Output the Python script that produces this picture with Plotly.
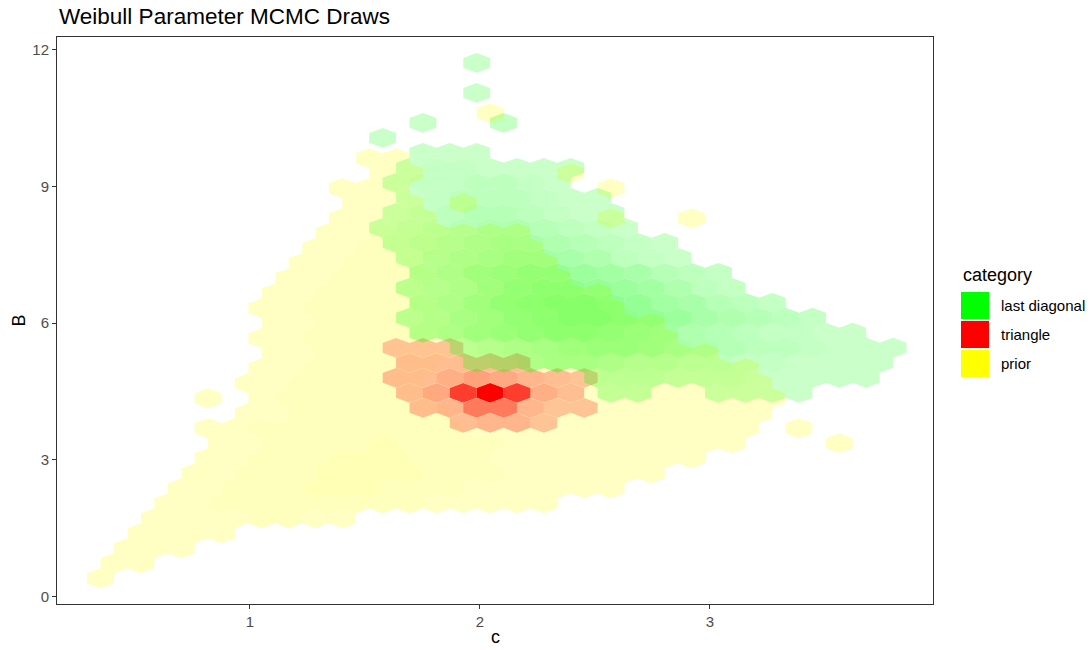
import plotly.graph_objects as go

TITLE = "Weibull Parameter MCMC Draws"
categories = ["prior", "triangle", "last diagonal"]          # drawing order
legend_order = ["last diagonal", "triangle", "prior"]
fills = {"last diagonal": "#00FF00", "triangle": "#FF0000", "prior": "#FFFF00"}

# hex bin size: horizontal spacing of centres in a row, vertical spacing of rows
DC = 0.1168
DB = 0.3289
C0 = 2 * DC          # c of column 0 on an unshifted row

# each category is binned on its own lattice: (B of row 0, parity of row 0)
lattice = {"prior": (0.405, 0), "triangle": (3.812, 1), "last diagonal": (4.471, 0)}

# bin counts per lattice row: row -> (first column, counts in base 36, '.' = empty)
prior_rows = {
    0: (1, "6"),
    1: (1, "66"),
    2: (2, "666"),
    3: (2, "6666"),
    4: (3, "66667766"),
    5: (3, "667777777766666"),
    6: (4, "66777888777666666"),
    7: (4, "667778888777666666"),
    8: (5, "6677788877766666666"),
    9: (5, "66777787777666666666...6"),
    10: (5, "667777777766666666666.6"),
    11: (6, "66777777666666666666"),
    12: (5, "6.67777776666666666666"),
    13: (6, "66777776666666666666"),
    14: (7, "6677777666666666666"),
    15: (7, "66777776666666666"),
    16: (7, "6677777666666666"),
    17: (7, "667777766666666"),
    18: (7, "66777776666666"),
    19: (7, "6677776666666"),
    20: (8, "66777766666"),
    21: (8, "6677766666"),
    22: (9, "667776666"),
    23: (9, "66777666"),
    24: (10, "6666......6..6"),
    25: (10, "666.6"),
    26: (10, "666.......6"),
    27: (11, "66.....6"),
    28: (11, "66"),
    31: (15, "6"),
}

triangle_rows = {
    0: (14, "7886"),
    1: (13, "78hh866"),
    2: (12, "7aqzq97"),
    3: (12, "779ba876"),
    4: (12, "77777"),
    5: (12, "666"),
}

diagonal_rows = {
    0: (20, "66..5555"),
    1: (19, "77766655555"),
    2: (15, "789aa98877665555"),
    3: (14, "789abccba98776555"),
    4: (13, "89bcdeedcb9876655"),
    5: (12, "78abdeffedca9876"),
    6: (13, "89bdeffedba876"),
    7: (12, "789bdeedcb976"),
    8: (13, "89bcddcba876"),
    9: (12, "689abba9765"),
    10: (12, "6789aa98765"),
    11: (11, "5678998765"),
    12: (12, "567887655"),
    13: (12, "56777655"),
    14: (12, "5667765"),
    15: (12, "5665555"),
    16: (13, "555"),
    17: (11, "5"),
    18: (13, "5..6"),
    20: (15, "5"),
    22: (15, "5"),
}

rows_by_category = {"prior": prior_rows, "triangle": triangle_rows,
                    "last diagonal": diagonal_rows}

HX = DC / 2
HY = DB / 3 ** 0.5 / 2 * 1.15


def cells(cat):
    b0, parity = lattice[cat]
    for r, (k0, s) in rows_by_category[cat].items():
        shift = 0.5 * ((r + parity) % 2)
        for j, ch in enumerate(s):
            if ch == ".":
                continue
            yield C0 + DC * (k0 + j + shift), b0 + DB * r, int(ch, 36)


all_counts = [n for cat in categories for _, _, n in cells(cat)]
NMIN, NMAX = 1, max(all_counts)


def alpha_of(n):
    return 0.1 + 0.9 * (n - NMIN) / (NMAX - NMIN)


def rgba(hex_col, a):
    h = hex_col.lstrip("#")
    r, g, b = (int(h[i:i + 2], 16) for i in (0, 2, 4))
    return f"rgba({r},{g},{b},{a:.3f})"


fig = go.Figure()
for cat in categories:
    groups = {}
    for c, b, n in cells(cat):
        xs, ys = groups.setdefault(n, ([], []))
        xs += [c + HX, c, c - HX, c - HX, c, c + HX, c + HX, None]
        ys += [b + HY, b + 2 * HY, b + HY, b - HY, b - 2 * HY, b - HY, b + HY, None]
    for n in sorted(groups):
        xs, ys = groups[n]
        fig.add_trace(go.Scatter(
            x=xs, y=ys, mode="lines", fill="toself",
            fillcolor=rgba(fills[cat], alpha_of(n)),
            line=dict(width=0), hoverinfo="skip", showlegend=False,
        ))

FONT = "Liberation Sans, Arial, sans-serif"
L, R, T, Bm = 57, 158, 37, 46
W, H = 1091, 650
PW, PH = W - L - R, H - T - Bm


def px(x):
    return (x - L) / PW


def py(y):
    return (H - Bm - y) / PH


axis_common = dict(
    showgrid=False, zeroline=False, showline=True, mirror=True,
    linecolor="#333333", linewidth=1, ticks="outside", ticklen=4,
    tickcolor="#333333", tickwidth=1,
    tickfont=dict(family=FONT, size=15, color="#4D4D4D"),
)
fig.update_xaxes(range=[0.1609, 3.9696], tickvals=[1, 2, 3], **axis_common)
fig.update_yaxes(range=[-0.16, 12.274], tickvals=[0, 3, 6, 9, 12], **axis_common)

annotations = [
    dict(text=TITLE, x=0, y=py(16.5), xref="paper", yref="paper", xanchor="left",
         yanchor="middle", showarrow=False, font=dict(family=FONT, size=22.5, color="black")),
    dict(text="c", x=0.5, y=py(637), xref="paper", yref="paper", xanchor="center",
         yanchor="middle", showarrow=False, font=dict(family=FONT, size=18, color="black")),
    dict(text="B", x=px(18), y=0.5, xref="paper", yref="paper", xanchor="center",
         yanchor="middle", textangle=-90, showarrow=False,
         font=dict(family=FONT, size=18, color="black")),
    dict(text="category", x=px(961), y=py(275), xref="paper", yref="paper",
         xanchor="left", yanchor="middle", showarrow=False,
         font=dict(family=FONT, size=18, color="black")),
]
shapes = []
key_tops = [292, 321, 350]
for name, top in zip(legend_order, key_tops):
    shapes.append(dict(type="rect", xref="paper", yref="paper",
                       x0=px(961), x1=px(989), y0=py(top + 27), y1=py(top),
                       fillcolor=fills[name], line=dict(width=0)))
    annotations.append(dict(text=name, x=px(999), y=py(top + 13.5), xref="paper",
                            yref="paper", xanchor="left", yanchor="middle",
                            showarrow=False,
                            font=dict(family=FONT, size=15, color="black")))

fig.update_layout(
    width=W, height=H, margin=dict(l=L, r=R, t=T, b=Bm),
    plot_bgcolor="white", paper_bgcolor="white", showlegend=False,
    annotations=annotations, shapes=shapes, font=dict(family=FONT),
)

fig.write_html("out.html")
